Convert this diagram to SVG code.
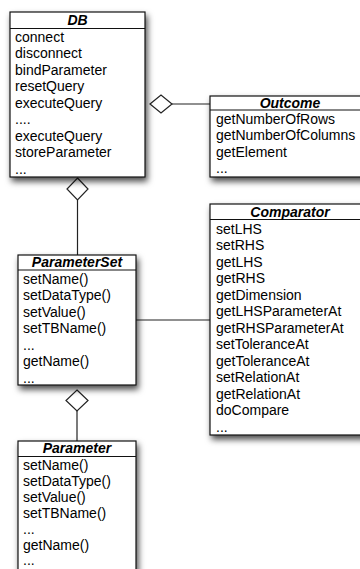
<svg xmlns="http://www.w3.org/2000/svg" width="360" height="569" viewBox="0 0 360 569">
  <defs>
    <filter id="shadow" x="-10%" y="-10%" width="130%" height="130%">
      <feDropShadow dx="2" dy="4" stdDeviation="3" flood-color="#000" flood-opacity="0.7"/>
    </filter>
  </defs>
  <style>
    .box { fill: #fff; stroke: #111; stroke-width: 1.2; }
    .sep { stroke: #111; stroke-width: 1.2; }
    .title { font-family: "Liberation Sans", Arial, sans-serif; font-size: 14px; font-weight: bold; font-style: italic; fill: #000; text-anchor: middle; }
    .item { font-family: "Liberation Sans", Arial, sans-serif; font-size: 14px; fill: #000; }
    .link { stroke: #222; stroke-width: 1.2; fill: none; }
    .agg { fill: #fff; stroke: #222; stroke-width: 1.2; }
  </style>

  <rect width="360" height="569" fill="#fff"/>

  <!-- associations -->
  <g id="connectors">
    <line class="link" x1="172" y1="104" x2="210" y2="104"/>
    <line class="link" x1="77.5" y1="200" x2="77.5" y2="255"/>
    <line class="link" x1="136" y1="320" x2="210" y2="320"/>
    <line class="link" x1="77" y1="411" x2="77" y2="441"/>
    <polygon class="agg" points="150,104 161,95 172,104 161,113"/>
    <polygon class="agg" points="77.5,178 88,189 77.5,200 67,189"/>
    <polygon class="agg" points="77,390 88,400.5 77,411 66,400.5"/>
  </g>

  <g id="DB">
    <rect class="box" x="10" y="12" width="135" height="165" filter="url(#shadow)"/>
    <line class="sep" x1="10" y1="28.5" x2="145" y2="28.5"/>
    <text class="title" x="77.5" y="25">DB</text>
    <text class="item" x="15" y="41.5">connect</text>
    <text class="item" x="15" y="58">disconnect</text>
    <text class="item" x="15" y="74.5">bindParameter</text>
    <text class="item" x="15" y="91">resetQuery</text>
    <text class="item" x="15" y="107.5">executeQuery</text>
    <text class="item" x="15" y="124">....</text>
    <text class="item" x="15" y="140.5">executeQuery</text>
    <text class="item" x="15" y="157">storeParameter</text>
    <text class="item" x="15" y="173.5">...</text>
  </g>

  <g id="Outcome">
    <rect class="box" x="210" y="96" width="160" height="81" filter="url(#shadow)"/>
    <line class="sep" x1="210" y1="110" x2="370" y2="110"/>
    <text class="title" x="290" y="107.5">Outcome</text>
    <text class="item" x="216" y="123.5">getNumberOfRows</text>
    <text class="item" x="216" y="140">getNumberOfColumns</text>
    <text class="item" x="216" y="156.5">getElement</text>
    <text class="item" x="216" y="173">...</text>
  </g>

  <g id="Comparator">
    <rect class="box" x="210" y="204" width="160" height="231" filter="url(#shadow)"/>
    <line class="sep" x1="210" y1="219.5" x2="370" y2="219.5"/>
    <text class="title" x="290" y="216.5">Comparator</text>
    <text class="item" x="216" y="233.5">setLHS</text>
    <text class="item" x="216" y="250">setRHS</text>
    <text class="item" x="216" y="266.5">getLHS</text>
    <text class="item" x="216" y="283">getRHS</text>
    <text class="item" x="216" y="299.5">getDimension</text>
    <text class="item" x="216" y="316">getLHSParameterAt</text>
    <text class="item" x="216" y="332.5">getRHSParameterAt</text>
    <text class="item" x="216" y="349">setToleranceAt</text>
    <text class="item" x="216" y="365.5">getToleranceAt</text>
    <text class="item" x="216" y="382">setRelationAt</text>
    <text class="item" x="216" y="398.5">getRelationAt</text>
    <text class="item" x="216" y="415">doCompare</text>
    <text class="item" x="216" y="431.5">...</text>
  </g>

  <g id="ParameterSet">
    <rect class="box" x="18" y="255" width="118" height="130" filter="url(#shadow)"/>
    <line class="sep" x1="18" y1="270" x2="136" y2="270"/>
    <text class="title" x="77" y="266.5">ParameterSet</text>
    <text class="item" x="23" y="283.5">setName()</text>
    <text class="item" x="23" y="300">setDataType()</text>
    <text class="item" x="23" y="316.5">setValue()</text>
    <text class="item" x="23" y="333">setTBName()</text>
    <text class="item" x="23" y="349.5">...</text>
    <text class="item" x="23" y="366">getName()</text>
    <text class="item" x="23" y="382.5">...</text>
  </g>

  <g id="Parameter">
    <rect class="box" x="18" y="441" width="118" height="150" filter="url(#shadow)"/>
    <line class="sep" x1="18" y1="456.5" x2="136" y2="456.5"/>
    <text class="title" x="77" y="453">Parameter</text>
    <text class="item" x="23" y="470">setName()</text>
    <text class="item" x="23" y="486">setDataType()</text>
    <text class="item" x="23" y="502">setValue()</text>
    <text class="item" x="23" y="518">setTBName()</text>
    <text class="item" x="23" y="534">...</text>
    <text class="item" x="23" y="549.5">getName()</text>
    <text class="item" x="23" y="565">...</text>
  </g>
</svg>
